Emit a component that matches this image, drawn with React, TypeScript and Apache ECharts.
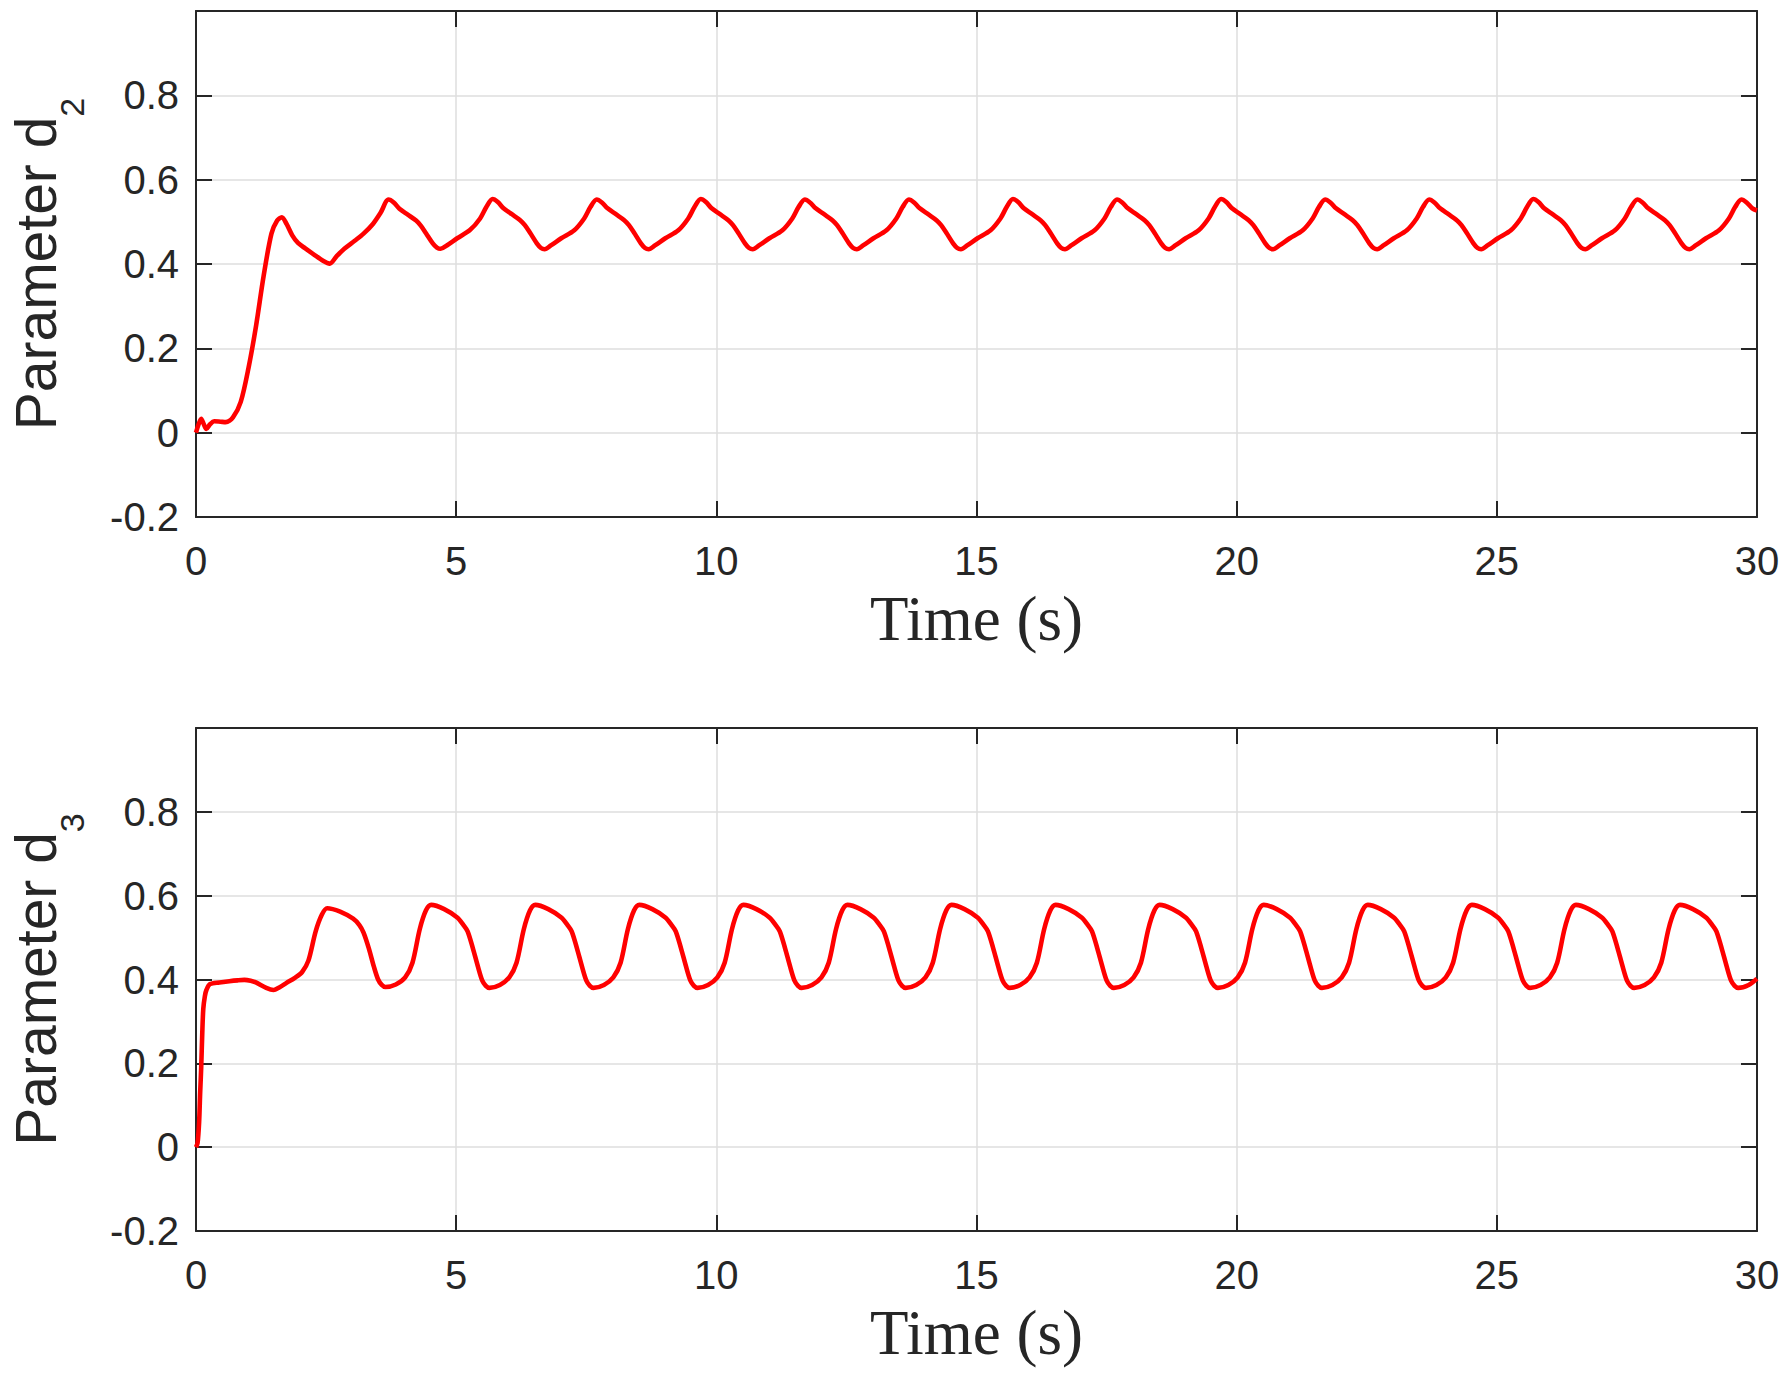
import React, { useEffect, useRef } from "react";
import * as echarts from "echarts";

// ---- data ----
const xTickLabels = [0, 5, 10, 15, 20, 25, 30];
const yTickLabels = [-0.2, 0, 0.2, 0.4, 0.6, 0.8];

const d2Points: [number, number][] = [
  [0, 0], [0.05, 0.02], [0.1, 0.033], [0.15, 0.02], [0.2, 0.009], [0.27, 0.02], [0.35, 0.027], [0.47, 0.026], [0.57, 0.025], [0.71, 0.036],
  [0.86, 0.073], [1.01, 0.154], [1.155, 0.254], [1.3, 0.372], [1.45, 0.472], [1.56, 0.503], [1.65, 0.511], [1.74, 0.495], [1.85, 0.468], [1.96, 0.45],
  [2.1, 0.437], [2.26, 0.423], [2.45, 0.407], [2.57, 0.401], [2.7, 0.418], [2.85, 0.436], [3.05, 0.455], [3.22, 0.472], [3.4, 0.495], [3.55, 0.522],
  [3.7, 0.553], [3.8, 0.546], [3.91, 0.531], [4.07, 0.517], [4.23, 0.503], [4.32, 0.491], [4.42, 0.473], [4.55, 0.449], [4.63, 0.439], [4.7, 0.436], [4.82, 0.444], [5.02, 0.461], [5.27, 0.481], [5.46, 0.508], [5.58, 0.535],
  [5.7, 0.554], [5.8, 0.547], [5.91, 0.532], [6.07, 0.518], [6.23, 0.504], [6.32, 0.492], [6.42, 0.474], [6.55, 0.449], [6.63, 0.438], [6.7, 0.435], [6.82, 0.444], [7.02, 0.461], [7.27, 0.48], [7.46, 0.508], [7.58, 0.535],
  [7.7, 0.553], [7.8, 0.546], [7.91, 0.532], [8.07, 0.518], [8.23, 0.504], [8.32, 0.492], [8.42, 0.474], [8.55, 0.449], [8.63, 0.438], [8.7, 0.435], [8.82, 0.444], [9.02, 0.461], [9.27, 0.48], [9.46, 0.508], [9.58, 0.535],
  [9.7, 0.554], [9.8, 0.547], [9.91, 0.532], [10.07, 0.518], [10.23, 0.504], [10.32, 0.492], [10.42, 0.474], [10.55, 0.449], [10.63, 0.438], [10.7, 0.435], [10.82, 0.444], [11.02, 0.461], [11.27, 0.48], [11.46, 0.508], [11.58, 0.535],
  [11.7, 0.553], [11.8, 0.546], [11.91, 0.532], [12.07, 0.518], [12.23, 0.504], [12.32, 0.492], [12.42, 0.474], [12.55, 0.449], [12.63, 0.438], [12.7, 0.435], [12.82, 0.444], [13.02, 0.461], [13.27, 0.48], [13.46, 0.508], [13.58, 0.535],
  [13.7, 0.553], [13.8, 0.546], [13.91, 0.532], [14.07, 0.518], [14.23, 0.504], [14.32, 0.492], [14.42, 0.474], [14.55, 0.449], [14.63, 0.438], [14.7, 0.435], [14.82, 0.444], [15.02, 0.461], [15.27, 0.48], [15.46, 0.508], [15.58, 0.535],
  [15.7, 0.554], [15.8, 0.547], [15.91, 0.532], [16.07, 0.518], [16.23, 0.504], [16.32, 0.492], [16.42, 0.474], [16.55, 0.449], [16.63, 0.438], [16.7, 0.435], [16.82, 0.444], [17.02, 0.461], [17.27, 0.48], [17.46, 0.508], [17.58, 0.535],
  [17.7, 0.553], [17.8, 0.546], [17.91, 0.532], [18.07, 0.518], [18.23, 0.504], [18.32, 0.492], [18.42, 0.474], [18.55, 0.449], [18.63, 0.438], [18.7, 0.435], [18.82, 0.444], [19.02, 0.461], [19.27, 0.48], [19.46, 0.508], [19.58, 0.535],
  [19.7, 0.554], [19.8, 0.547], [19.91, 0.532], [20.07, 0.518], [20.23, 0.504], [20.32, 0.492], [20.42, 0.474], [20.55, 0.449], [20.63, 0.438], [20.7, 0.435], [20.82, 0.444], [21.02, 0.461], [21.27, 0.48], [21.46, 0.508], [21.58, 0.535],
  [21.7, 0.553], [21.8, 0.546], [21.91, 0.532], [22.07, 0.518], [22.23, 0.504], [22.32, 0.492], [22.42, 0.474], [22.55, 0.449], [22.63, 0.438], [22.7, 0.435], [22.82, 0.444], [23.02, 0.461], [23.27, 0.48], [23.46, 0.508], [23.58, 0.535],
  [23.7, 0.553], [23.8, 0.546], [23.91, 0.532], [24.07, 0.518], [24.23, 0.504], [24.32, 0.492], [24.42, 0.474], [24.55, 0.449], [24.63, 0.438], [24.7, 0.435], [24.82, 0.444], [25.02, 0.461], [25.27, 0.48], [25.46, 0.508], [25.58, 0.535],
  [25.7, 0.554], [25.8, 0.547], [25.91, 0.532], [26.07, 0.518], [26.23, 0.504], [26.32, 0.492], [26.42, 0.474], [26.55, 0.449], [26.63, 0.438], [26.7, 0.435], [26.82, 0.444], [27.02, 0.461], [27.27, 0.48], [27.46, 0.508], [27.58, 0.535],
  [27.7, 0.553], [27.8, 0.546], [27.91, 0.532], [28.07, 0.518], [28.23, 0.504], [28.32, 0.492], [28.42, 0.474], [28.55, 0.449], [28.63, 0.438], [28.7, 0.435], [28.82, 0.444], [29.02, 0.461], [29.27, 0.48], [29.46, 0.508], [29.58, 0.535],
  [29.7, 0.553], [29.8, 0.546], [29.91, 0.532], [30, 0.527],
];

const d3Points: [number, number][] = [
  [0, 0], [0.03, 0.01], [0.06, 0.06], [0.08, 0.13], [0.1, 0.19], [0.12, 0.27], [0.14, 0.33], [0.17, 0.36], [0.2, 0.375], [0.27, 0.389],
  [0.45, 0.393], [0.64, 0.396], [0.8, 0.398], [0.93, 0.399], [1.05, 0.397], [1.15, 0.393], [1.35, 0.38], [1.49, 0.375], [1.6, 0.381], [1.74, 0.392],
  [1.9, 0.404], [2.04, 0.418], [2.16, 0.445], [2.3, 0.515], [2.42, 0.555],
  [2.52, 0.57], [2.77, 0.562], [3.02, 0.545], [3.14, 0.53], [3.22, 0.512], [3.32, 0.475], [3.42, 0.43], [3.5, 0.4], [3.57, 0.387], [3.64, 0.382], [3.84, 0.388], [4.02, 0.405], [4.16, 0.44], [4.3, 0.52], [4.42, 0.565],
  [4.52, 0.578], [4.77, 0.568], [5.02, 0.548], [5.14, 0.53], [5.22, 0.515], [5.32, 0.475], [5.42, 0.43], [5.5, 0.398], [5.57, 0.385], [5.64, 0.38], [5.84, 0.387], [6.02, 0.405], [6.16, 0.44], [6.3, 0.52], [6.42, 0.565],
  [6.52, 0.578], [6.77, 0.568], [7.02, 0.548], [7.14, 0.53], [7.22, 0.515], [7.32, 0.475], [7.42, 0.43], [7.5, 0.398], [7.57, 0.385], [7.64, 0.38], [7.84, 0.387], [8.02, 0.405], [8.16, 0.44], [8.3, 0.52], [8.42, 0.565],
  [8.52, 0.578], [8.77, 0.568], [9.02, 0.548], [9.14, 0.53], [9.22, 0.515], [9.32, 0.475], [9.42, 0.43], [9.5, 0.398], [9.57, 0.385], [9.64, 0.38], [9.84, 0.387], [10.02, 0.405], [10.16, 0.44], [10.3, 0.52], [10.42, 0.565],
  [10.52, 0.578], [10.77, 0.568], [11.02, 0.548], [11.14, 0.53], [11.22, 0.515], [11.32, 0.475], [11.42, 0.43], [11.5, 0.398], [11.57, 0.385], [11.64, 0.38], [11.84, 0.387], [12.02, 0.405], [12.16, 0.44], [12.3, 0.52], [12.42, 0.565],
  [12.52, 0.578], [12.77, 0.568], [13.02, 0.548], [13.14, 0.53], [13.22, 0.515], [13.32, 0.475], [13.42, 0.43], [13.5, 0.398], [13.57, 0.385], [13.64, 0.38], [13.84, 0.387], [14.02, 0.405], [14.16, 0.44], [14.3, 0.52], [14.42, 0.565],
  [14.52, 0.578], [14.77, 0.568], [15.02, 0.548], [15.14, 0.53], [15.22, 0.515], [15.32, 0.475], [15.42, 0.43], [15.5, 0.398], [15.57, 0.385], [15.64, 0.38], [15.84, 0.387], [16.02, 0.405], [16.16, 0.44], [16.3, 0.52], [16.42, 0.565],
  [16.52, 0.578], [16.77, 0.568], [17.02, 0.548], [17.14, 0.53], [17.22, 0.515], [17.32, 0.475], [17.42, 0.43], [17.5, 0.398], [17.57, 0.385], [17.64, 0.38], [17.84, 0.387], [18.02, 0.405], [18.16, 0.44], [18.3, 0.52], [18.42, 0.565],
  [18.52, 0.578], [18.77, 0.568], [19.02, 0.548], [19.14, 0.53], [19.22, 0.515], [19.32, 0.475], [19.42, 0.43], [19.5, 0.398], [19.57, 0.385], [19.64, 0.38], [19.84, 0.387], [20.02, 0.405], [20.16, 0.44], [20.3, 0.52], [20.42, 0.565],
  [20.52, 0.578], [20.77, 0.568], [21.02, 0.548], [21.14, 0.53], [21.22, 0.515], [21.32, 0.475], [21.42, 0.43], [21.5, 0.398], [21.57, 0.385], [21.64, 0.38], [21.84, 0.387], [22.02, 0.405], [22.16, 0.44], [22.3, 0.52], [22.42, 0.565],
  [22.52, 0.578], [22.77, 0.568], [23.02, 0.548], [23.14, 0.53], [23.22, 0.515], [23.32, 0.475], [23.42, 0.43], [23.5, 0.398], [23.57, 0.385], [23.64, 0.38], [23.84, 0.387], [24.02, 0.405], [24.16, 0.44], [24.3, 0.52], [24.42, 0.565],
  [24.52, 0.578], [24.77, 0.568], [25.02, 0.548], [25.14, 0.53], [25.22, 0.515], [25.32, 0.475], [25.42, 0.43], [25.5, 0.398], [25.57, 0.385], [25.64, 0.38], [25.84, 0.387], [26.02, 0.405], [26.16, 0.44], [26.3, 0.52], [26.42, 0.565],
  [26.52, 0.578], [26.77, 0.568], [27.02, 0.548], [27.14, 0.53], [27.22, 0.515], [27.32, 0.475], [27.42, 0.43], [27.5, 0.398], [27.57, 0.385], [27.64, 0.38], [27.84, 0.387], [28.02, 0.405], [28.16, 0.44], [28.3, 0.52], [28.42, 0.565],
  [28.52, 0.578], [28.77, 0.568], [29.02, 0.548], [29.14, 0.53], [29.22, 0.515], [29.32, 0.475], [29.42, 0.43], [29.5, 0.398], [29.57, 0.385], [29.64, 0.38], [29.84, 0.387], [30, 0.402],
];

const panels = [
  { points: d2Points, sub: "2" },
  { points: d3Points, sub: "3" },
];

// ---- style ----
const INK = "#262626";
const GRID_LINE = "#dedede";
const SANS = "'Liberation Sans', Arial, Helvetica, sans-serif";
const SERIF = "'Liberation Serif', 'Times New Roman', serif";
const gridBoxes = [
  { left: 196, top: 11, width: 1561, height: 506, containLabel: false, outerBoundsMode: "none" },
  { left: 196, top: 728, width: 1561, height: 503, containLabel: false, outerBoundsMode: "none" },
];

const fmtY = (v: number) => {
  const r = Math.round(v * 10) / 10;
  return yTickLabels.indexOf(r) >= 0 ? String(r) : "";
};

export default function App() {
  const ref = useRef<HTMLDivElement>(null);
  useEffect(() => {
    if (!ref.current) return;
    const chart = echarts.init(ref.current, undefined, { renderer: "svg" });
    const xMin = xTickLabels[0];
    const xMax = xTickLabels[xTickLabels.length - 1];
    const xStep = xTickLabels[1] - xTickLabels[0];
    const xAxes: any[] = [];
    const yAxes: any[] = [];
    const series: any[] = [];
    panels.forEach((p, i) => {
      const line = { show: true, onZero: false, lineStyle: { color: INK, width: 2 } };
      const tick = { show: true, inside: true, length: 16, lineStyle: { color: INK, width: 2 } };
      xAxes.push({
        gridIndex: i, type: "value", min: xMin, max: xMax, interval: xStep, position: "bottom",
        axisLine: line, axisTick: tick,
        axisLabel: { margin: 24, fontSize: 40, color: INK, fontFamily: SANS },
        splitLine: { show: true, lineStyle: { color: GRID_LINE, width: 1.5 } },
        name: "Time (s)", nameLocation: "middle", nameGap: 70,
        nameTextStyle: { fontSize: 63, color: INK, fontFamily: SERIF },
      });
      xAxes.push({
        gridIndex: i, type: "value", min: xMin, max: xMax, interval: xStep, position: "top",
        axisLine: line, axisTick: tick, axisLabel: { show: false }, splitLine: { show: false },
      });
      yAxes.push({
        gridIndex: i, type: "value", min: -0.2, max: 1, interval: 0.2, position: "left",
        axisLine: line, axisTick: tick,
        axisLabel: { margin: 17, fontSize: 40, color: INK, fontFamily: SANS, formatter: fmtY },
        splitLine: { show: true, lineStyle: { color: GRID_LINE, width: 1.5 } },
        name: "{a|Parameter d}{b|" + p.sub + "}", nameLocation: "middle", nameRotate: 90, nameGap: 132,
        nameTextStyle: {
          color: INK, fontFamily: SANS,
          rich: {
            a: { fontSize: 57, lineHeight: 56, color: INK, fontFamily: SANS },
            b: { fontSize: 34, lineHeight: 34, padding: [72, 0, 0, 0], color: INK, fontFamily: SANS },
          },
        },
      });
      yAxes.push({
        gridIndex: i, type: "value", min: -0.2, max: 1, interval: 0.2, position: "right",
        axisLine: line, axisTick: tick, axisLabel: { show: false }, splitLine: { show: false },
      });
      series.push({
        type: "line", xAxisIndex: i * 2, yAxisIndex: i * 2, data: p.points,
        showSymbol: false, smooth: 0.3, clip: true,
        lineStyle: { color: "#ff0000", width: 4.6 }, z: 3,
      });
    });
    chart.setOption({
      animation: false,
      backgroundColor: "#ffffff",
      grid: gridBoxes,
      xAxis: xAxes,
      yAxis: yAxes,
      series,
    });
    return () => chart.dispose();
  }, []);
  return (
    <div
      ref={ref}
      style={{ position: "absolute", left: 0, top: 0, width: 1788, height: 1377, background: "#fff" }}
    />
  );
}
